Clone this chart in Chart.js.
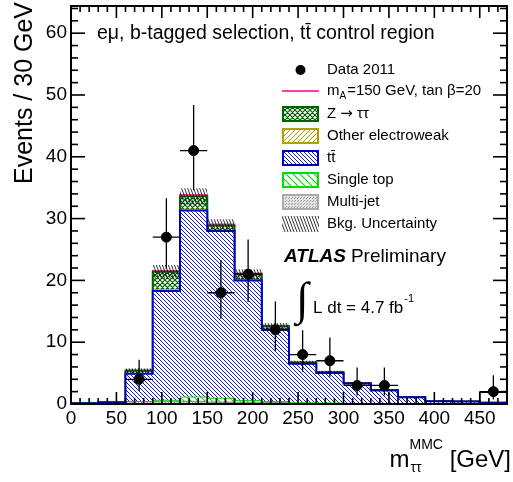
<!DOCTYPE html>
<html lang="en">
<head>
<meta charset="UTF-8">
<title>MMC mass, e-mu b-tagged ttbar control region</title>
<script src="https://cdn.jsdelivr.net/npm/chart.js"></script>
<style>
  html, body { margin: 0; padding: 0; background: #fff; }
</style>
</head>
<body>
<canvas id="mmcChart" width="513" height="482"></canvas>
<script>
  // 30 GeV bins, 0 - 480 GeV
  const binEdges = [0, 30, 60, 90, 120, 150, 180, 210, 240, 270, 300, 330, 360, 390, 420, 450, 480];

  // background components (stacked bottom -> top)
  const multiJet  = [0.05, 0.1, 0.4, 0.4, 0.4, 0.3, 0.25, 0.2, 0.1, 0.1, 0.05, 0.05, 0, 0, 0, 0];
  const singleTop = [0, 0.05, 0.1, 0.3, 0.8, 0.7, 0.4, 0.3, 0.2, 0.15, 0.1, 0.05, 0.05, 0, 0, 0];
  const ttbar     = [0.05, 0.05, 4.4, 17.6, 30.1, 27.0, 19.35, 11.5, 6.2, 4.75, 3.15, 2.1, 1.05, 0.45, 0.4, 0.2];
  const otherEW   = [0, 0.02, 0.1, 0.3, 0.3, 0.2, 0.2, 0.1, 0.05, 0.05, 0.02, 0.02, 0, 0, 0, 0];
  const zTauTau   = [0.05, 0.1, 0.4, 2.8, 2.0, 0.7, 0.8, 0.5, 0.15, 0.1, 0.05, 0.05, 0, 0, 0, 0];
  const signal    = [0, 0, 0.05, 0.15, 0.25, 0.2, 0.15, 0.1, 0.05, 0.05, 0, 0, 0, 0, 0, 0];
  const bkgUnc    = [0.02, 0.05, 0.4, 1.1, 1.3, 1.0, 0.8, 0.5, 0.3, 0.25, 0.2, 0.15, 0.1, 0.05, 0.05, 0.03];

  // data 2011 with asymmetric poisson intervals
  const dataCounts = [0, 0, 4, 27, 41, 18, 21, 12, 8, 7, 3, 3, 0, 0, 0, 2];
  const dataLow    = [0, 0, 2.09, 21.9, 34.6, 13.8, 16.5, 8.6, 5.23, 4.42, 1.37, 1.37, 0, 0, 0, 0.71];
  const dataHigh   = [0, 0, 7.16, 33.3, 48.4, 23.3, 26.6, 16.6, 11.95, 10.77, 5.92, 5.92, 0, 0, 0, 4.64];

  // odd black outline on the last bin
  const outlineBin = 15;
  const outlineValue = 1.9;

  const xTicks = [0, 50, 100, 150, 200, 250, 300, 350, 400, 450];
  const yTicks = [0, 10, 20, 30, 40, 50, 60];

  const FONT = '"Liberation Sans", Arial, Helvetica, sans-serif';
  const canvas = document.getElementById('mmcChart');
  const ctx = canvas.getContext('2d');

  function hatch(color, w, h, dir, lw, bg) {
    const c = document.createElement('canvas');
    c.width = w; c.height = h;
    const g = c.getContext('2d');
    if (bg) { g.fillStyle = bg; g.fillRect(0, 0, w, h); }
    g.strokeStyle = color;
    g.lineWidth = lw;
    g.beginPath();
    for (const off of [-w, 0, w]) {
      if (dir === '\\' || dir === 'x') { g.moveTo(off, 0); g.lineTo(off + w, h); }
      if (dir === '/' || dir === 'x') { g.moveTo(off, h); g.lineTo(off + w, 0); }
    }
    g.stroke();
    return ctx.createPattern(c, 'repeat');
  }

  function dots(color, bg) {
    const c = document.createElement('canvas');
    c.width = 3; c.height = 3;
    const g = c.getContext('2d');
    g.fillStyle = bg; g.fillRect(0, 0, 3, 3);
    g.fillStyle = color; g.fillRect(0, 0, 1, 1); g.fillRect(1, 2, 1, 1);
    return ctx.createPattern(c, 'repeat');
  }

  const pat = {
    multi: dots('#9a9a9a', '#e4e4e4'),
    single: hatch('#00dd00', 7, 7, '\\', 1.2, null),
    tt: hatch('#0000cc', 4, 4, '\\', 0.9, '#ffffff'),
    ew: hatch('#b0a000', 5, 5, '/', 1, '#ffffff'),
    z: hatch('#006400', 5, 5, 'x', 1.2, '#ffffff'),
    unc: hatch('#000000', 3, 8, '\\', 0.8, null),
  };

  // cumulative stack tops
  const stackParts = [multiJet, singleTop, ttbar, otherEW, zTauTau, signal];
  const cum = [];
  let run = binEdges.slice(1).map(() => 0);
  for (const part of stackParts) {
    run = run.map((v, i) => v + part[i]);
    cum.push(run.slice());
  }
  const bkgTotal = cum[4];

  function steps(vals) {
    const pts = vals.map((v, i) => ({ x: binEdges[i], y: v }));
    pts.push({ x: binEdges[binEdges.length - 1], y: vals[vals.length - 1] });
    return pts;
  }

  function histDs(vals, color, bg, fill, width, order) {
    return {
      data: steps(vals), stepped: true, pointRadius: 0, borderColor: color,
      borderWidth: width, backgroundColor: bg, fill: fill, order: order,
    };
  }

  const dataPts = [];
  const errSegs = [];
  dataCounts.forEach((n, i) => {
    if (n <= 0) return;
    const xc = (binEdges[i] + binEdges[i + 1]) / 2;
    dataPts.push({ x: xc, y: n });
    errSegs.push({ x: xc, y: dataLow[i] }, { x: xc, y: dataHigh[i] }, { x: xc, y: null });
    errSegs.push({ x: binEdges[i], y: n }, { x: binEdges[i + 1], y: n }, { x: xc, y: null });
  });

  const outlinePts = [
    { x: binEdges[outlineBin], y: 0 }, { x: binEdges[outlineBin], y: outlineValue },
    { x: binEdges[outlineBin + 1], y: outlineValue }, { x: binEdges[outlineBin + 1], y: 0 },
  ];

  // lower order value = drawn later (on top)
  const datasets = [
    histDs(cum[0], '#999999', pat.multi, 'origin', 1.5, 20),
    histDs(cum[1], '#00dd00', pat.single, '-1', 2, 19),
    histDs(cum[2], '#0000cc', pat.tt, '-1', 2, 14.5),
    histDs(cum[3], '#b0a000', pat.ew, '-1', 1.5, 17),
    histDs(cum[4], '#006400', pat.z, '-1', 2, 15),
    histDs(cum[5], '#ff3fa8', 'transparent', false, 1.5, 16),
    histDs(bkgTotal.map((v, i) => v - bkgUnc[i]), 'transparent', 'transparent', false, 0, 14),
    histDs(bkgTotal.map((v, i) => v + bkgUnc[i]), 'transparent', pat.unc, 6, 0, 13),
    { data: outlinePts, pointRadius: 0, borderColor: '#000', borderWidth: 1.5, fill: false, order: 3 },
    { data: errSegs, pointRadius: 0, borderColor: '#000', borderWidth: 1.3, fill: false, spanGaps: false, order: 2 },
    { data: dataPts, showLine: false, pointRadius: 5, pointBackgroundColor: '#000', pointBorderColor: '#000', order: 1 },
  ];

  function line(c, x1, y1, x2, y2) { c.beginPath(); c.moveTo(x1, y1); c.lineTo(x2, y2); c.stroke(); }

  const decorations = {
    id: 'decorations',
    afterDraw(chart) {
      const c = chart.ctx;
      const a = chart.chartArea;
      const xs = chart.scales.x, ys = chart.scales.y;
      c.save();
      // frame + inward ticks on all four sides
      c.strokeStyle = '#000';
      c.lineWidth = 2;
      c.strokeRect(a.left, a.top, a.right - a.left, a.bottom - a.top);
      c.lineWidth = 1.6;
      for (let v = 0; v <= 480; v += 10) {
        const px = xs.getPixelForValue(v);
        const len = v % 50 === 0 ? 12 : 6;
        line(c, px, a.bottom, px, a.bottom - len);
        line(c, px, a.top, px, a.top + len);
      }
      for (let v = 0; v <= 64; v += 2) {
        const py = ys.getPixelForValue(v);
        const len = v % 10 === 0 ? 14 : 7;
        line(c, a.left, py, a.left + len, py);
        line(c, a.right, py, a.right - len, py);
      }

      c.fillStyle = '#000';
      c.textBaseline = 'alphabetic';
      // axis titles
      c.save();
      c.translate(32, 2);
      c.rotate(-Math.PI / 2);
      c.textAlign = 'right';
      c.font = '25px ' + FONT;
      c.fillText('Events / 30 GeV', 0, 0);
      c.restore();

      c.textAlign = 'left';
      const tail = ' [GeV]';
      c.font = '24px ' + FONT;
      const wM = c.measureText('m').width, wTail = c.measureText(tail).width;
      c.font = '14px ' + FONT;
      const wSup = c.measureText('MMC').width;
      let x0 = 511 - wTail - wSup - wM;
      c.font = '24px ' + FONT;
      c.fillText('m', x0, 467);
      c.font = '14px ' + FONT;
      c.fillText('\u03c4\u03c4', x0 + wM + 1, 472);
      c.fillText('MMC', x0 + wM, 449);
      c.font = '24px ' + FONT;
      c.fillText(tail, x0 + wM + wSup, 467);

      // selection label
      c.font = '19.5px ' + FONT;
      c.fillText('e\u03bc, b-tagged selection, tt\u0304 control region', 97, 39);

      // legend
      const lx = 282, lw = 37, tx = 327;
      const rows = [70, 91, 114, 136, 158, 180, 202, 224];
      c.font = '15px ' + FONT;
      c.textBaseline = 'middle';
      c.beginPath();
      c.arc(lx + lw / 2, rows[0], 5, 0, Math.PI * 2);
      c.fill();
      c.fillText('Data 2011', tx, rows[0]);

      c.strokeStyle = '#ff3fa8';
      c.lineWidth = 2;
      line(c, lx, rows[1], lx + lw, rows[1]);
      c.fillText('m', tx, rows[1]);
      const wm = c.measureText('m').width;
      c.font = '10px ' + FONT;
      c.fillText('A', tx + wm, rows[1] + 5);
      const wa = c.measureText('A').width;
      c.font = '15px ' + FONT;
      c.fillText('=150 GeV, tan \u03b2=20', tx + wm + wa + 1, rows[1]);

      const boxes = [
        [pat.z, '#006400', ['Z ', '\u2192', ' \u03c4\u03c4']],
        [pat.ew, '#b0a000', ['Other electroweak']],
        [pat.tt, '#0000cc', ['tt\u0304']],
        [pat.single, '#00dd00', ['Single top']],
        [pat.multi, '#aaaaaa', ['Multi-jet']],
        [pat.unc, null, ['Bkg. Uncertainty']],
      ];
      boxes.forEach(([p, col, parts], k) => {
        const y = rows[k + 2];
        c.fillStyle = p;
        c.fillRect(lx, y - 8, lw, 16);
        if (col) {
          c.strokeStyle = col;
          c.lineWidth = 2;
          c.strokeRect(lx + 1, y - 7, lw - 2, 14);
        }
        c.fillStyle = '#000';
        let px = tx;
        parts.forEach((s) => {
          c.font = s === '\u2192' ? '15px "DejaVu Sans", sans-serif' : '15px ' + FONT;
          c.fillText(s, px, y);
          px += c.measureText(s).width;
        });
      });

      // ATLAS label
      c.textBaseline = 'alphabetic';
      c.font = 'italic bold 19px ' + FONT;
      c.fillText('ATLAS', 284, 262);
      const wAtlas = c.measureText('ATLAS').width;
      c.font = '19px ' + FONT;
      c.fillText('Preliminary', 284 + wAtlas + 5, 262);

      // luminosity
      c.font = '46px "Liberation Serif", serif';
      c.fillText('\u222b', 296, 314);
      c.font = '17px ' + FONT;
      c.fillText('L dt = 4.7 fb', 313, 313);
      const wl = c.measureText('L dt = 4.7 fb').width;
      c.font = '11px ' + FONT;
      c.fillText('-1', 313 + wl + 1, 302);
      c.restore();
    }
  };

  new Chart(ctx, {
    type: 'line',
    data: { datasets: datasets },
    options: {
      responsive: false,
      devicePixelRatio: 1,
      animation: false,
      layout: { padding: { left: 0, right: 1, top: 5, bottom: 0 } },
      plugins: { legend: { display: false }, tooltip: { enabled: false } },
      scales: {
        x: {
          type: 'linear', min: 0, max: 480,
          afterFit: (s) => { s.height = 78; s.paddingLeft = 0; s.paddingRight = 0; },
          afterBuildTicks: (s) => { s.ticks = xTicks.map((v) => ({ value: v })); },
          grid: { display: false, drawTicks: false },
          border: { display: false },
          ticks: { autoSkip: false, maxRotation: 0, padding: 3, color: '#000', font: { family: FONT, size: 19 } },
        },
        y: {
          type: 'linear', min: 0, max: 64.4,
          afterFit: (s) => { s.width = 71; s.paddingTop = 0; s.paddingBottom = 0; },
          afterBuildTicks: (s) => { s.ticks = yTicks.map((v) => ({ value: v })); },
          grid: { display: false, drawTicks: false },
          border: { display: false },
          ticks: { padding: 4, color: '#000', font: { family: FONT, size: 19 } },
        },
      },
    },
    plugins: [decorations],
  });
</script>
</body>
</html>
